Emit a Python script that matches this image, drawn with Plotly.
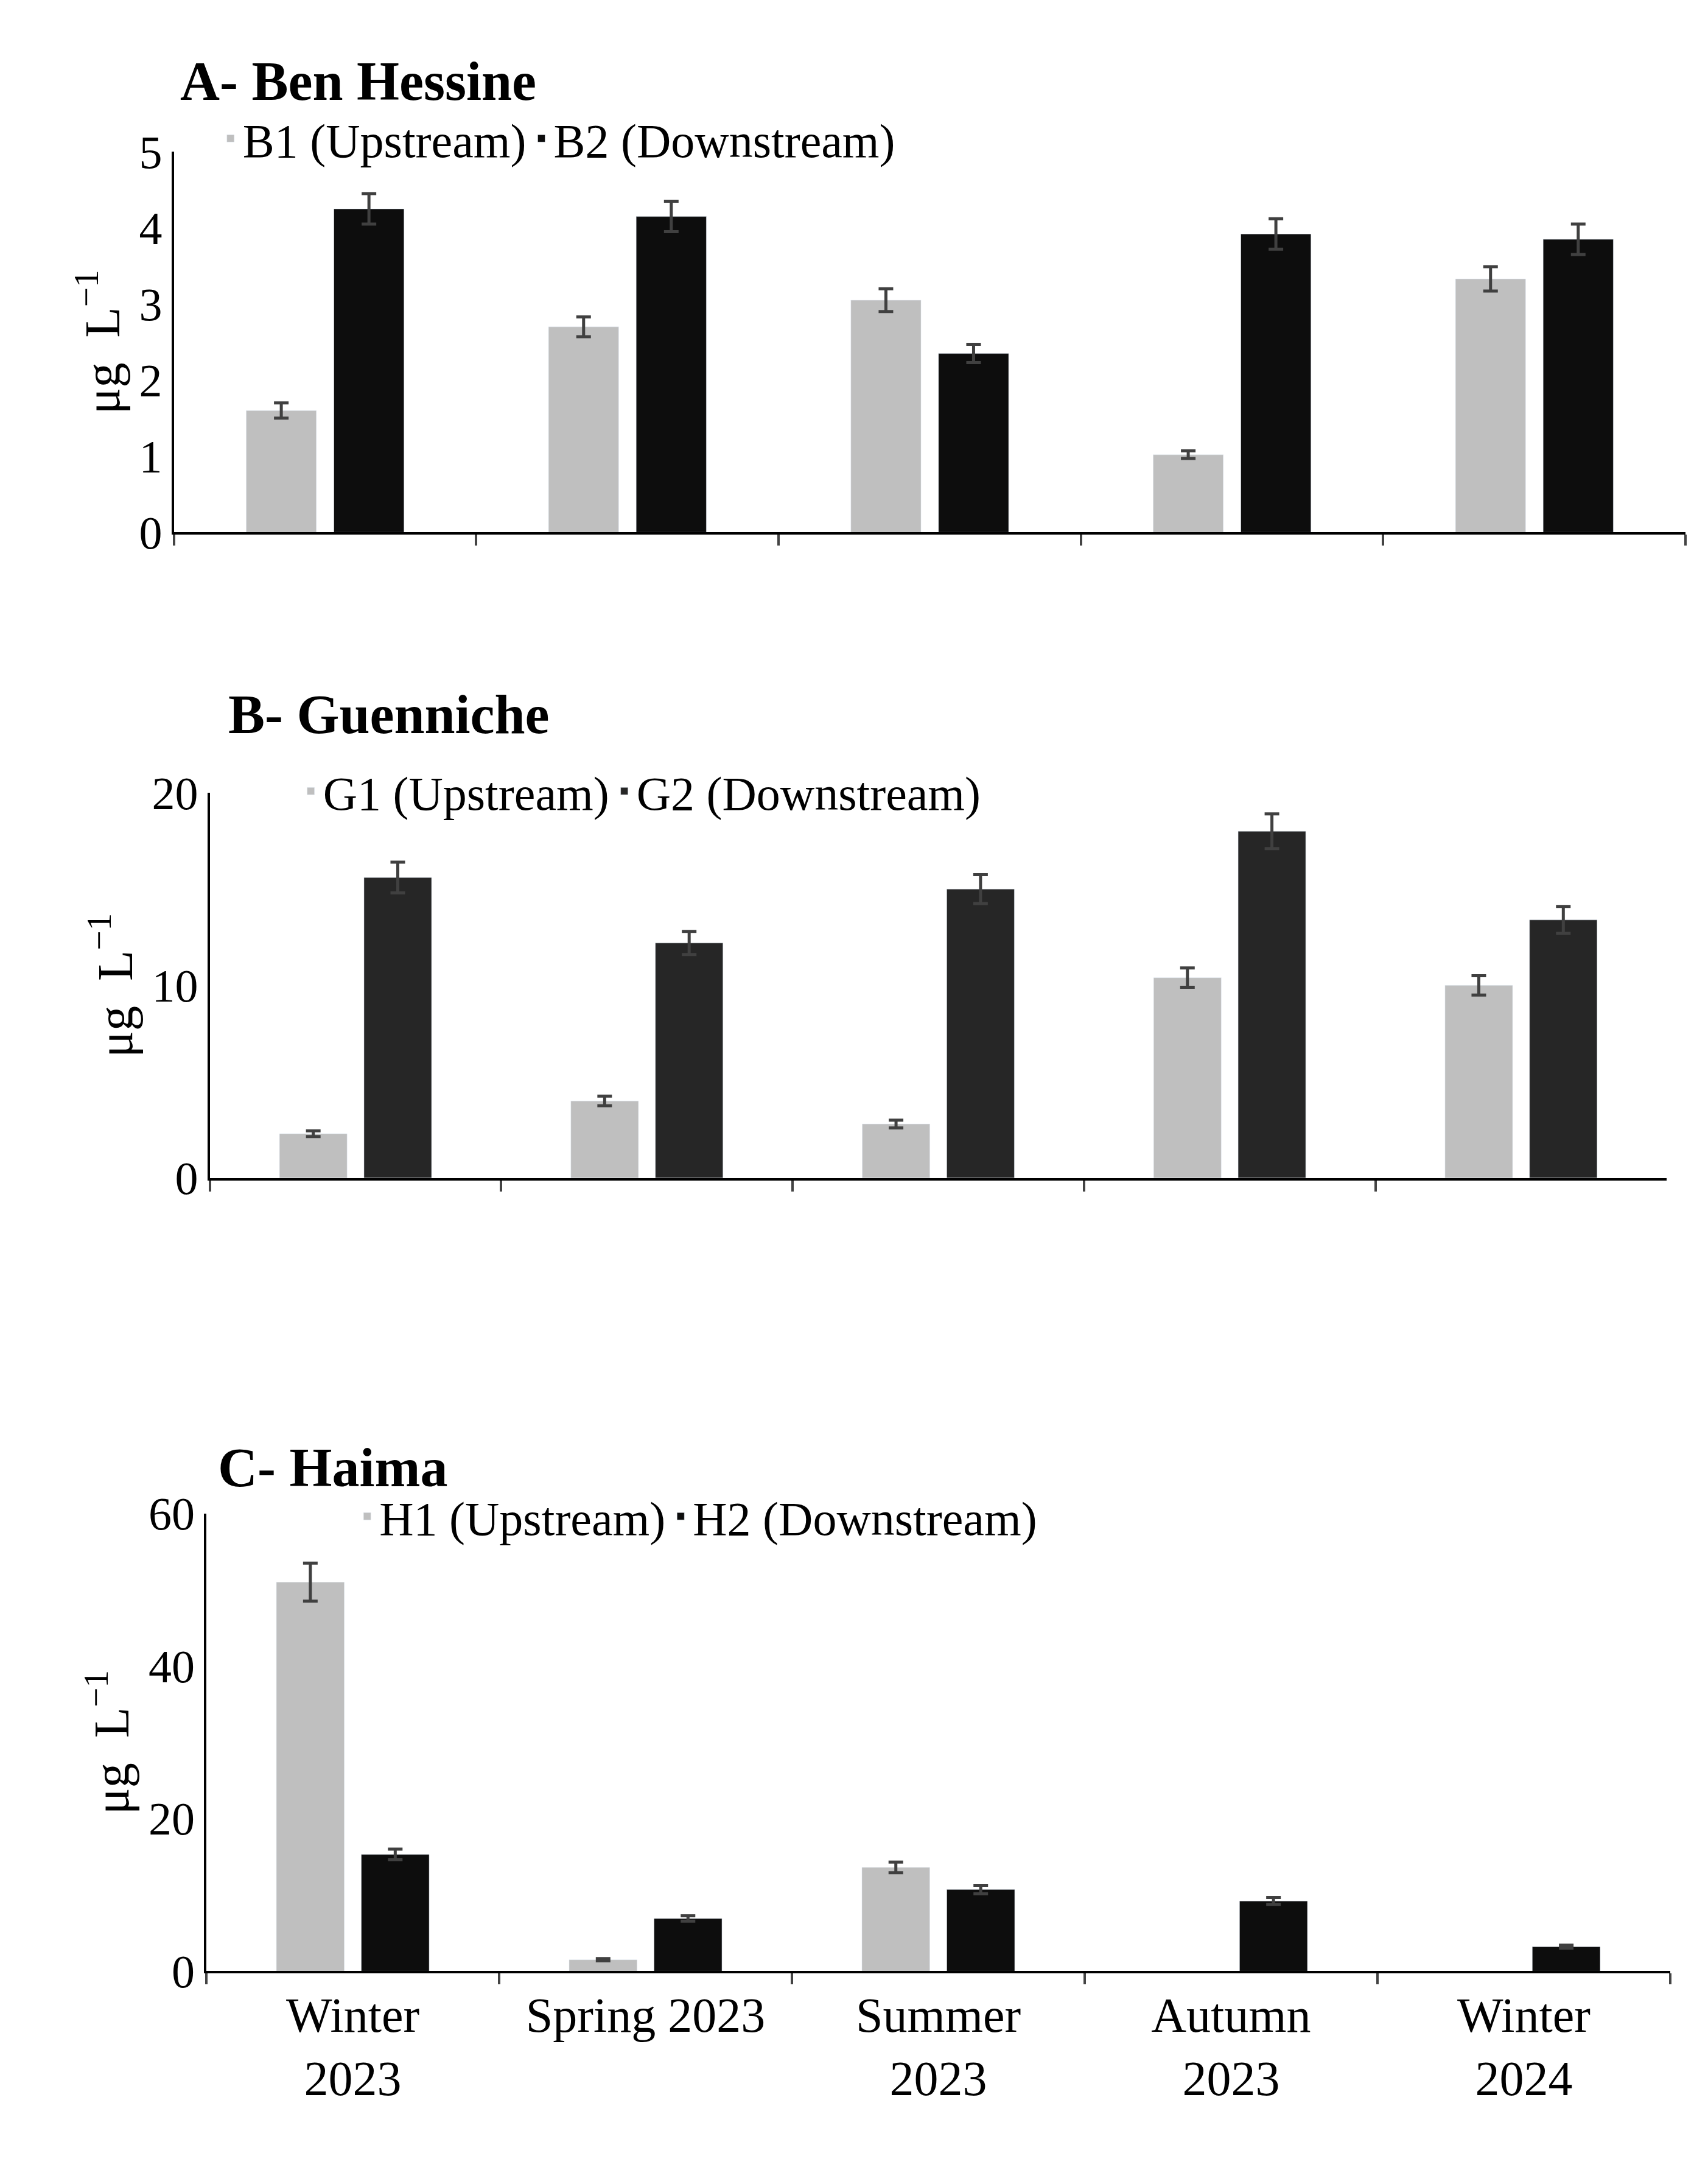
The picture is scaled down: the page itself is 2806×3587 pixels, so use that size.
import plotly.graph_objects as go

seasons = ["Winter<br>2023", "Spring 2023", "Summer<br>2023", "Autumn<br>2023", "Winter<br>2024"]

b1 = [1.6, 2.7, 3.05, 1.02, 3.33]
b1_err = [0.1, 0.13, 0.15, 0.05, 0.16]
b2 = [4.25, 4.15, 2.35, 3.92, 3.85]
b2_err = [0.2, 0.2, 0.12, 0.2, 0.2]

g1 = [2.3, 4.0, 2.8, 10.4, 10.0]
g1_err = [0.15, 0.25, 0.2, 0.5, 0.5]
g2 = [15.6, 12.2, 15.0, 18.0, 13.4]
g2_err = [0.8, 0.6, 0.75, 0.9, 0.7]

h1 = [51, 1.5, 13.6, None, None]
h1_err = [2.5, 0.15, 0.7, 0, 0]
h2 = [15.3, 6.9, 10.7, 9.2, 3.2]
h2_err = [0.7, 0.35, 0.55, 0.45, 0.2]

LIGHT = "#BFBFBF"
FONT = "Liberation Serif"

panels = [
    # (upstream, err, name, downstream, err, name, dark colour, title, yrange, dtick, xdom, ydom)
    (b1, b1_err, "B1 (Upstream)", b2, b2_err, "B2 (Downstream)", "#0D0D0D",
     "A- Ben Hessine", [0, 5], 1, [0.099, 0.984], [0.7644, 0.9428]),
    (g1, g1_err, "G1 (Upstream)", g2, g2_err, "G2 (Downstream)", "#262626",
     "B- Guenniche", [0, 20], 10, [0.12, 0.973], [0.4617, 0.6423]),
    (h1, h1_err, "H1 (Upstream)", h2, h2_err, "H2 (Downstream)", "#0D0D0D",
     "C- Haima", [0, 60], 20, [0.118, 0.975], [0.0898, 0.3044]),
]

fig = go.Figure()
err_style = dict(type="data", color="#404040", thickness=5, width=12)

title_pos = [(0.102, 0.976), (0.13, 0.679), (0.124, 0.326)]
legend_pos = [(0.125, 0.949), (0.172, 0.643), (0.205, 0.303)]

for i, (u, ue, un, d, de, dn, dc, title, yr, dt, xd, yd) in enumerate(panels):
    n = i + 1
    sx = "" if n == 1 else str(n)
    leg = "legend" if n == 1 else f"legend{n}"
    fig.add_trace(go.Bar(x=seasons, y=u, name=un, marker_color=LIGHT,
                         error_y=dict(array=ue, **err_style),
                         xaxis=f"x{sx}", yaxis=f"y{sx}", legend=leg))
    fig.add_trace(go.Bar(x=seasons, y=d, name=dn, marker_color=dc,
                         error_y=dict(array=de, **err_style),
                         xaxis=f"x{sx}", yaxis=f"y{sx}", legend=leg))
    fig.layout[f"xaxis{sx}"] = dict(
        domain=xd, anchor=f"y{sx}", showline=True, linecolor="black", linewidth=4,
        ticks="outside", tickson="boundaries", ticklen=18, tickwidth=4,
        showticklabels=(n == 3), tickfont=dict(size=80, family=FONT, color="black"))
    fig.layout[f"yaxis{sx}"] = dict(
        domain=yd, anchor=f"x{sx}", range=yr, dtick=dt, showline=True,
        linecolor="black", linewidth=4, showgrid=False, ticks="outside",
        ticklen=0, tickfont=dict(size=76, family=FONT, color="black"),
        title=dict(text="μg  L<sup>−1</sup>", standoff=6,
                   font=dict(size=82, family=FONT, color="black")))
    tx, ty = title_pos[i]
    fig.add_annotation(text=f"<b>{title}</b>", x=tx, y=ty, xref="paper", yref="paper",
                       xanchor="left", yanchor="middle", showarrow=False,
                       font=dict(size=90, family=FONT, color="black"))
    lx, ly = legend_pos[i]
    fig.layout[leg] = dict(x=lx, y=ly, xanchor="left", yanchor="middle",
                           orientation="h", bgcolor="rgba(0,0,0,0)",
                           font=dict(size=78, family=FONT, color="black"))

fig.update_layout(width=2806, height=3587, barmode="group", bargap=0.42,
                  bargroupgap=0.2, plot_bgcolor="white", paper_bgcolor="white",
                  margin=dict(l=0, r=0, t=0, b=0))

fig.write_html("out.html")
